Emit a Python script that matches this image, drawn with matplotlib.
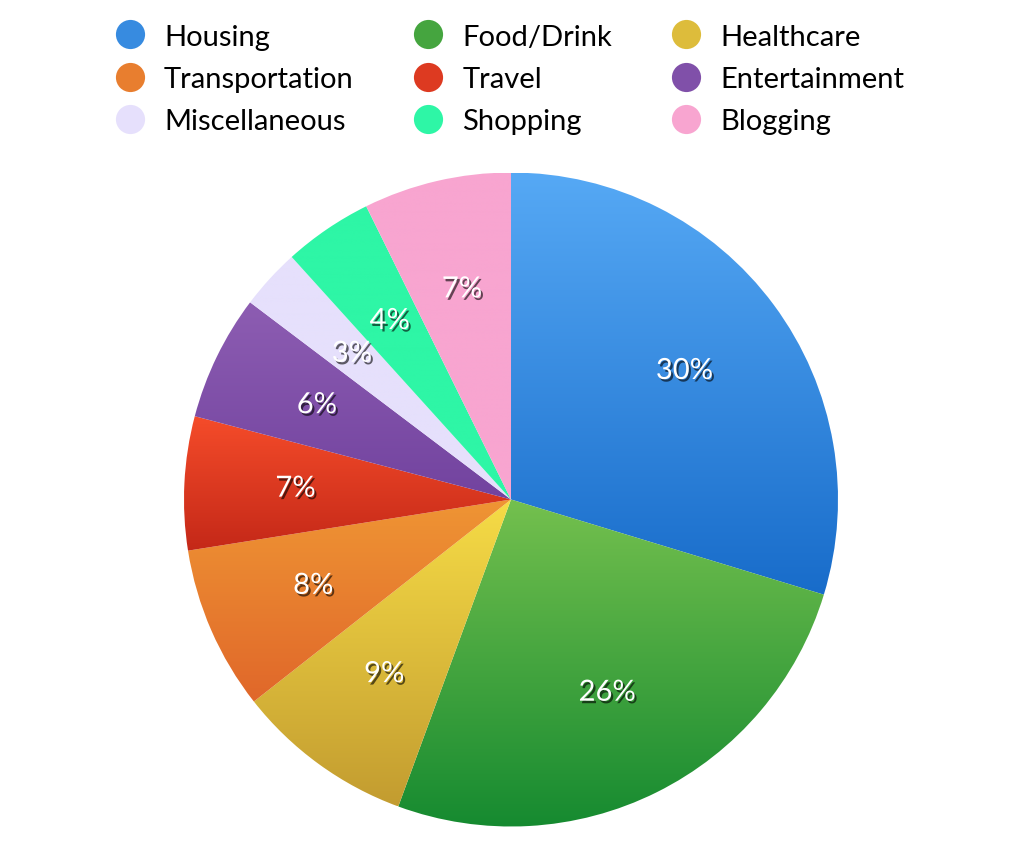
import numpy as np
import matplotlib
matplotlib.use("Agg")
import matplotlib.pyplot as plt
import matplotlib.patheffects as pe
from matplotlib.colors import to_rgb
from matplotlib.lines import Line2D

categories = ["Housing", "Food/Drink", "Healthcare", "Transportation", "Travel",
              "Entertainment", "Miscellaneous", "Shopping", "Blogging"]
values = [29.7, 25.9, 8.8, 8.1, 6.6, 6.2, 3.0, 4.4, 7.3]
top_colors = ["#56a9f5", "#74c04e", "#f6dc46", "#ef9534", "#f54c2a",
              "#8d5db2", "#e6e0fc", "#2ef6a6", "#f8a5d0"]
bottom_colors = ["#186cca", "#158a30", "#c39c30", "#e0672a", "#c42818",
                 "#72439f", "#e6e0fc", "#2ef6a6", "#f8a5d0"]
legend_order = ["Housing", "Transportation", "Miscellaneous",
                "Food/Drink", "Travel", "Shopping",
                "Healthcare", "Entertainment", "Blogging"]

plt.rcParams['font.family'] = ['Lato', 'DejaVu Sans']

W, H = 1018, 854
fig = plt.figure(figsize=(W / 100, H / 100), dpi=100)
cx, cy, R = 511, 500.5, 327
ax = fig.add_axes([(cx - R) / W, (H - cy - R) / H, 2 * R / W, 2 * R / H])
ax.set_xlim(-1, 1)
ax.set_ylim(-1, 1)
ax.set_aspect('equal')
ax.axis('off')

wedges, texts, autotexts = ax.pie(
    values, startangle=90, counterclock=False, radius=1.0,
    colors=top_colors, autopct='%.0f%%', pctdistance=0.66,
    wedgeprops=dict(linewidth=0),
    textprops=dict(color='white', fontsize=21))

for w, ct, cb in zip(wedges, top_colors, bottom_colors):
    verts = w.get_path().transformed(w.get_patch_transform()).vertices
    y0, y1 = verts[:, 1].min(), verts[:, 1].max()
    n = 256
    t = np.linspace(0, 1, n)[:, None]
    c0 = np.array(to_rgb(ct)); c1 = np.array(to_rgb(cb))
    grad = (c0[None, :] * (1 - t) + c1[None, :] * t)[:, None, :]
    grad = np.repeat(grad, 2, axis=1)
    im = ax.imshow(grad, extent=[-1, 1, y0, y1], origin='upper',
                   aspect='auto', interpolation='bilinear', zorder=1)
    im.set_clip_path(w)
    w.set_facecolor('none')

ax.set_xlim(-1, 1)
ax.set_ylim(-1, 1)

for t in autotexts:
    t.set_zorder(5)
    t.set_path_effects([pe.SimplePatchShadow(offset=(1.5, -1.8), shadow_rgbFace='black', alpha=0.6),
                        pe.Normal()])

mid = {}
for c, ct, cb in zip(categories, top_colors, bottom_colors):
    mid[c] = tuple((np.array(to_rgb(ct)) + np.array(to_rgb(cb))) / 2)
handles = [Line2D([], [], linestyle='none', marker='o', markersize=21,
                  markerfacecolor=mid[c], markeredgewidth=0) for c in legend_order]
fig.legend(handles, legend_order, ncol=3, loc='upper center',
           bbox_to_anchor=(0.501, 1.002), frameon=False, fontsize=21,
           handlelength=1.0, handletextpad=0.67, columnspacing=2.05,
           labelspacing=0.56)

fig.savefig("out.png", dpi=100)
